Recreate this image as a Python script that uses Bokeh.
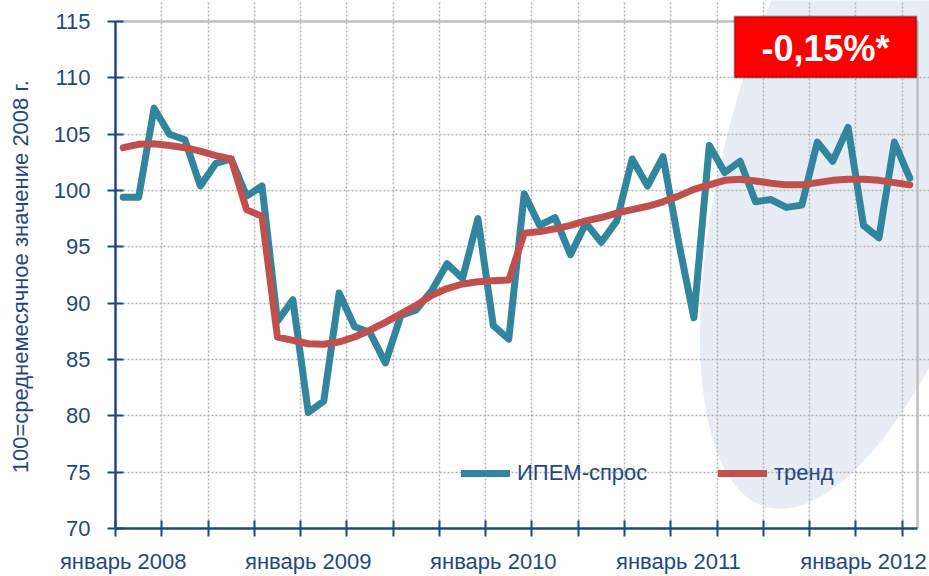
import numpy as np
from bokeh.plotting import figure
from bokeh.models import (Range1d, FixedTicker, Legend, LegendItem, Label,
                          BoxAnnotation, PolyAnnotation)
from bokeh.embed import file_html
from bokeh.resources import INLINE

# ---------------- data ----------------
months = [f"{y}-{m:02d}" for y in range(2008, 2013) for m in range(1, 13)][:52]
ipem = [99.4, 99.4, 107.3, 105.0, 104.5, 100.4, 102.4, 102.8, 99.5, 100.4,
        88.4, 90.3, 80.3, 81.3, 90.9, 87.9, 87.4, 84.7, 88.9, 89.4,
        91.1, 93.5, 92.2, 97.5, 88.0, 86.8, 99.7, 96.9, 97.6, 94.3,
        97.1, 95.4, 97.3, 102.8, 100.4, 103.0, 95.5, 88.7, 104.0, 101.6,
        102.6, 99.0, 99.2, 98.5, 98.7, 104.3, 102.6, 105.6, 96.9, 95.8,
        104.3, 101.1]
trend = [103.8, 104.1, 104.15, 104.0, 103.8, 103.5, 103.1, 102.8, 98.3, 97.7,
         87.0, 86.7, 86.4, 86.35, 86.55, 87.0, 87.6, 88.3, 89.05, 89.8,
         90.7, 91.3, 91.7, 91.9, 92.0, 92.05, 96.2, 96.35, 96.6, 96.9,
         97.3, 97.6, 98.0, 98.3, 98.6, 99.0, 99.5, 100.1, 100.5, 100.9,
         101.0, 100.85, 100.65, 100.5, 100.5, 100.7, 100.9, 101.0, 101.0, 100.9,
         100.7, 100.5]
year_label_pos = [0, 12, 24, 36, 48]
year_labels = ["январь 2008", "январь 2009", "январь 2010", "январь 2011", "январь 2012"]
y_ticks = [70, 75, 80, 85, 90, 95, 100, 105, 110, 115]
series_names = ["ИПЕМ-спрос", "тренд"]
badge_text = "-0,15%*"
y_title = "100=среднемесячное значение 2008 г."

x = list(range(len(months)))

FONT = "Liberation Sans"
NAVY = "#1F497D"
TEAL = "#31859C"
RED = "#C0504D"
BORDER = "#C0C0C0"

# plot area geometry (page pixels)
W, H = 929, 576
FL, FR, FT, FB = 115, 917, 21, 528
n = len(months)
ymin, ymax = y_ticks[0], y_ticks[-1]
xmin, xmax = -0.5, n - 0.5
px_x = (FR - FL) / (xmax - xmin)
px_y = (FB - FT) / (ymax - ymin)

p = figure(width=W, height=H, output_backend="svg", toolbar_location=None,
           x_range=Range1d(xmin, xmax + (W - FR) / px_x),
           y_range=Range1d(ymin, ymax + FT / px_y),
           min_border_left=FL, min_border_right=0, min_border_top=0,
           min_border_bottom=H - FB)
p.background_fill_color = "white"
p.border_fill_color = "white"
p.outline_line_color = None

def px_to_data(px, py):
    return xmin + (px - FL) / px_x, ymin + (FB - py) / px_y

# decorative background ellipse
th = np.deg2rad(16)
t = np.linspace(0, 2 * np.pi, 240)
a_, b_, cx, cy = 380, 140, 870, 141
ex = cx + a_ * np.cos(t) * np.sin(th) + b_ * np.sin(t) * np.cos(th)
ey = cy - a_ * np.cos(t) * np.cos(th) + b_ * np.sin(t) * np.sin(th)
dx, dy = px_to_data(ex, ey)
p.add_layout(PolyAnnotation(xs=list(dx), ys=list(dy), fill_color="#E8ECF4",
                            fill_alpha=1, line_color=None, level="image"))

# axes
minor = [xmin + 3 * k for k in range(18)]
p.xaxis.ticker = FixedTicker(ticks=year_label_pos, minor_ticks=minor)
p.xaxis.major_label_overrides = {k: v for k, v in zip(year_label_pos, year_labels)}
p.yaxis.ticker = FixedTicker(ticks=y_ticks)
p.xaxis.bounds = (xmin, xmax)
p.yaxis.bounds = (ymin, ymax)

for ax in (p.xaxis[0], p.yaxis[0]):
    ax.axis_line_color = NAVY
    ax.axis_line_width = 2.5
    ax.major_label_text_font = FONT
    ax.major_label_text_font_size = "22px"
    ax.major_label_text_color = NAVY

p.xaxis.major_tick_line_color = None
p.xaxis.major_tick_in = 0
p.xaxis.major_tick_out = 8
p.xaxis.minor_tick_line_color = NAVY
p.xaxis.minor_tick_line_width = 2
p.xaxis.minor_tick_in = 8
p.xaxis.minor_tick_out = 8
p.xaxis.major_label_standoff = 12

p.yaxis.major_tick_line_color = NAVY
p.yaxis.major_tick_line_width = 2
p.yaxis.major_tick_in = 8
p.yaxis.major_tick_out = 8
p.yaxis.minor_tick_line_color = None
p.yaxis.major_label_standoff = 17
p.yaxis.axis_label = y_title + "\u00a0" * 4
p.yaxis.axis_label_text_font = FONT
p.yaxis.axis_label_text_font_size = "22px"
p.yaxis.axis_label_text_font_style = "normal"
p.yaxis.axis_label_text_color = NAVY
p.yaxis.axis_label_standoff = 18

# grids
p.xgrid.ticker = FixedTicker(ticks=minor[1:])
p.ygrid.ticker = FixedTicker(ticks=y_ticks[1:-1])
p.xgrid.bounds = (ymin, ymax)
p.ygrid.bounds = (xmin, xmax)
for g in (p.xgrid[0], p.ygrid[0]):
    g.grid_line_color = "#B0B0B0"
    g.grid_line_dash = "2 2"
    g.grid_line_width = 1.5

# plot-area border (top and right)
p.line([xmin, xmax, xmax], [ymax, ymax, ymin], line_color=BORDER, line_width=2.5)

# data lines
r1 = p.line(x, ipem, line_color=TEAL, line_width=7, line_join="round", line_cap="round")
r2 = p.line(x, trend, line_color=RED, line_width=7, line_join="round", line_cap="round")

legend = Legend(items=[LegendItem(label=series_names[0], renderers=[r1]),
                       LegendItem(label=series_names[1], renderers=[r2])],
                orientation="horizontal", location=(346, 40),
                glyph_width=49, glyph_height=30, label_height=30, label_width=196,
                label_standoff=7, spacing=5, padding=0, margin=0,
                background_fill_alpha=0, border_line_color=None,
                label_text_font=FONT, label_text_font_size="22px",
                label_text_color=NAVY)
p.add_layout(legend)

# red badge
bx0, by0 = px_to_data(734, 77)
bx1, by1 = px_to_data(916, 16)
p.add_layout(BoxAnnotation(left=bx0, right=bx1, bottom=by0, top=by1,
                           fill_color="#FF0000", fill_alpha=1, line_color="black",
                           line_width=2, level="overlay"))
tx, ty = px_to_data(825, 48)
p.add_layout(Label(x=tx, y=ty, text=badge_text, text_align="center",
                   text_baseline="middle", text_font=FONT, text_font_style="bold",
                   text_font_size="36px", text_color="white", level="overlay"))

open("out.html", "w").write(file_html(p, INLINE))
